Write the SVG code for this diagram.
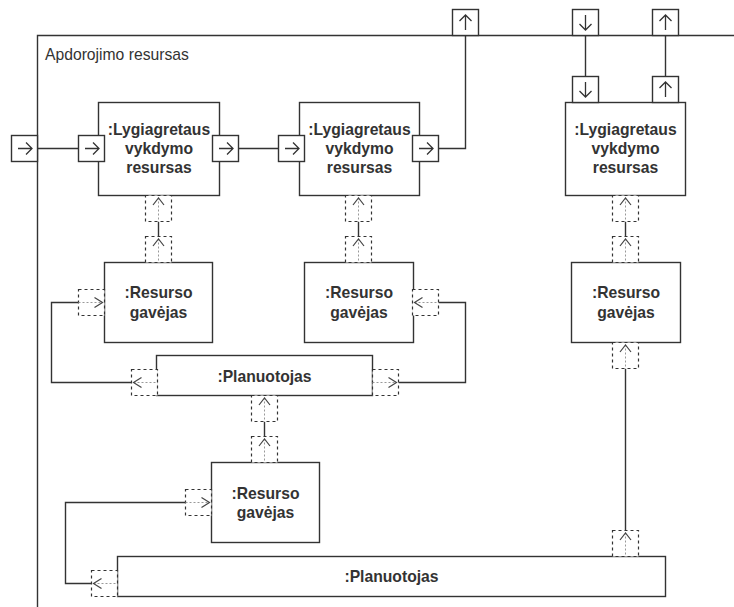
<svg xmlns="http://www.w3.org/2000/svg" xmlns:xlink="http://www.w3.org/1999/xlink" width="734" height="607" viewBox="0 0 734 607">
<style>
.box{fill:#fff;stroke:#333;stroke-width:1.4}
.port{fill:#fff;stroke:#333;stroke-width:1.4}
.dport{fill:#fff;stroke:#333;stroke-width:1.2;stroke-dasharray:3 3}
.glyph{fill:none;stroke:#333;stroke-width:1.3}
.stem{fill:none;stroke:#999;stroke-width:1;stroke-dasharray:2 2}
.chev{fill:none;stroke:#444;stroke-width:1.2}
.wire{fill:none;stroke:#333;stroke-width:1.4}
.lbl{font-family:"Liberation Sans",Arial,sans-serif;font-size:15.7px;font-weight:bold;fill:#333;text-anchor:middle}
.title{font-family:"Liberation Sans",Arial,sans-serif;font-size:15.7px;fill:#333}
</style>
<defs>
<path id="aR" class="glyph" d="M6.5 13H20.5M14.5 7L20.5 13L14.5 19"/>
<path id="aU" class="glyph" d="M13 20.5V5.5M7 11.5L13 5.5L19 11.5"/>
<path id="aD" class="glyph" d="M13 5.5V20.5M7 14.5L13 20.5L19 14.5"/>
<g id="dU"><path class="stem" d="M13 2V26"/><path class="chev" d="M7.5 9.5L13 2.5L18.5 9.5"/></g>
<g id="dR"><path class="stem" d="M0 13H24"/><path class="chev" d="M16 8L24 13L16 18"/></g>
<g id="dL"><path class="stem" d="M2 13H26"/><path class="chev" d="M10 8L2 13L10 18"/></g>
</defs>
<rect width="734" height="607" fill="#fff"/>

<g id="container">
<path class="wire" d="M37.5 607V35.5H734"/>
<text class="title" x="45" y="60">Apdorojimo resursas</text>
</g>

<g id="connectors">
<path class="wire" d="M37.5 148.5H78.5"/>
<path class="wire" d="M238.5 148.5H278.5"/>
<path class="wire" d="M438.5 148.5H465.5V35.5"/>
<path class="wire" d="M585.5 35.5V76.5"/>
<path class="wire" d="M665.5 35.5V76.5"/>
<path class="wire" d="M158.5 221.5V236.5"/>
<path class="wire" d="M358.5 221.5V236.5"/>
<path class="wire" d="M625.5 221.5V236.5"/>
<path class="wire" d="M78.5 302.5H51.5V382.5H131.5"/>
<path class="wire" d="M438.5 302.5H465.5V382.5H398.5"/>
<path class="wire" d="M264.5 421.5V436.5"/>
<path class="wire" d="M185.5 502.5H65.5V583.5H91.5"/>
<path class="wire" d="M625.5 368.5V530.5"/>
</g>

<g id="ext-ports">
<rect class="port" x="11.5" y="135.5" width="26" height="26"/><use xlink:href="#aR" x="11.5" y="135.5"/>
<rect class="port" x="452.5" y="9.5" width="26" height="26"/><use xlink:href="#aU" x="452.5" y="9.5"/>
<rect class="port" x="572.5" y="9.5" width="26" height="26"/><use xlink:href="#aD" x="572.5" y="9.5"/>
<rect class="port" x="652.5" y="9.5" width="26" height="26"/><use xlink:href="#aU" x="652.5" y="9.5"/>
</g>

<g id="lvr1">
<rect class="box" x="98.5" y="102.5" width="121" height="93"/>
<text class="lbl" x="159" y="135">:Lygiagretaus</text>
<text class="lbl" x="159" y="154">vykdymo</text>
<text class="lbl" x="159" y="173">resursas</text>
<rect class="port" x="78.5" y="135.5" width="26" height="26"/><use xlink:href="#aR" x="78.5" y="135.5"/>
<rect class="port" x="212.5" y="135.5" width="26" height="26"/><use xlink:href="#aR" x="212.5" y="135.5"/>
<rect class="dport" x="145.5" y="195.5" width="26" height="26"/><use xlink:href="#dU" x="145.5" y="195.5"/>
</g>

<g id="lvr2">
<rect class="box" x="299.5" y="102.5" width="120" height="93"/>
<text class="lbl" x="359.5" y="135">:Lygiagretaus</text>
<text class="lbl" x="359.5" y="154">vykdymo</text>
<text class="lbl" x="359.5" y="173">resursas</text>
<rect class="port" x="278.5" y="135.5" width="26" height="26"/><use xlink:href="#aR" x="278.5" y="135.5"/>
<rect class="port" x="412.5" y="135.5" width="26" height="26"/><use xlink:href="#aR" x="412.5" y="135.5"/>
<rect class="dport" x="345.5" y="195.5" width="26" height="26"/><use xlink:href="#dU" x="345.5" y="195.5"/>
</g>

<g id="lvr3">
<rect class="box" x="565.5" y="102.5" width="120" height="93"/>
<text class="lbl" x="625.5" y="135">:Lygiagretaus</text>
<text class="lbl" x="625.5" y="154">vykdymo</text>
<text class="lbl" x="625.5" y="173">resursas</text>
<rect class="port" x="572.5" y="76.5" width="26" height="26"/><use xlink:href="#aD" x="572.5" y="76.5"/>
<rect class="port" x="652.5" y="76.5" width="26" height="26"/><use xlink:href="#aU" x="652.5" y="76.5"/>
<rect class="dport" x="612.5" y="195.5" width="26" height="26"/><use xlink:href="#dU" x="612.5" y="195.5"/>
</g>

<g id="rg1">
<rect class="box" x="104.5" y="262.5" width="108" height="80"/>
<text class="lbl" x="158.5" y="298">:Resurso</text>
<text class="lbl" x="158.5" y="317.5">gavėjas</text>
<rect class="dport" x="145.5" y="236.5" width="26" height="26"/><use xlink:href="#dU" x="145.5" y="236.5"/>
<rect class="dport" x="78.5" y="289.5" width="26" height="26"/><use xlink:href="#dR" x="78.5" y="289.5"/>
</g>

<g id="rg2">
<rect class="box" x="304.5" y="262.5" width="109" height="80"/>
<text class="lbl" x="359" y="298">:Resurso</text>
<text class="lbl" x="359" y="317.5">gavėjas</text>
<rect class="dport" x="345.5" y="236.5" width="26" height="26"/><use xlink:href="#dU" x="345.5" y="236.5"/>
<rect class="dport" x="412.5" y="289.5" width="26" height="26"/><use xlink:href="#dL" x="412.5" y="289.5"/>
</g>

<g id="rg4">
<rect class="box" x="571.5" y="262.5" width="109" height="80"/>
<text class="lbl" x="626" y="298">:Resurso</text>
<text class="lbl" x="626" y="317.5">gavėjas</text>
<rect class="dport" x="612.5" y="236.5" width="26" height="26"/><use xlink:href="#dU" x="612.5" y="236.5"/>
<rect class="dport" x="612.5" y="342.5" width="26" height="26"/><use xlink:href="#dU" x="612.5" y="342.5"/>
</g>

<g id="plan1">
<rect class="box" x="156.5" y="355.5" width="216" height="40"/>
<text class="lbl" x="264.5" y="382">:Planuotojas</text>
<rect class="dport" x="131.5" y="369.5" width="26" height="26"/><use xlink:href="#dL" x="131.5" y="369.5"/>
<rect class="dport" x="372.5" y="369.5" width="26" height="26"/><use xlink:href="#dR" x="372.5" y="369.5"/>
<rect class="dport" x="251.5" y="395.5" width="26" height="26"/><use xlink:href="#dU" x="251.5" y="395.5"/>
</g>

<g id="rg3">
<rect class="box" x="211.5" y="462.5" width="108" height="80"/>
<text class="lbl" x="265.5" y="498.5">:Resurso</text>
<text class="lbl" x="265.5" y="518">gavėjas</text>
<rect class="dport" x="251.5" y="436.5" width="26" height="26"/><use xlink:href="#dU" x="251.5" y="436.5"/>
<rect class="dport" x="185.5" y="489.5" width="26" height="26"/><use xlink:href="#dR" x="185.5" y="489.5"/>
</g>

<g id="plan2">
<rect class="box" x="117.5" y="556.5" width="548" height="40"/>
<text class="lbl" x="391.5" y="582">:Planuotojas</text>
<rect class="dport" x="91.5" y="570.5" width="26" height="26"/><use xlink:href="#dL" x="91.5" y="570.5"/>
<rect class="dport" x="612.5" y="530.5" width="26" height="26"/><use xlink:href="#dU" x="612.5" y="530.5"/>
</g>
</svg>
